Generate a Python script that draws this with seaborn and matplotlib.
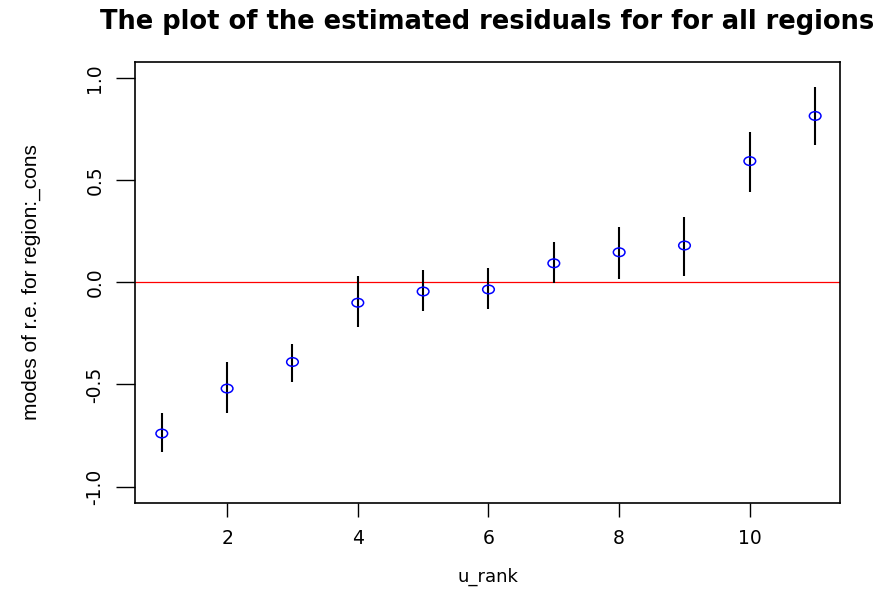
import matplotlib
matplotlib.use("Agg")
import matplotlib.pyplot as plt
from matplotlib.path import Path
from matplotlib.transforms import Affine2D
import seaborn as sns
import pandas as pd

# datos
u_rank = [1, 2, 3, 4, 5, 6, 7, 8, 9, 10, 11]
modos = [-0.74, -0.52, -0.39, -0.10, -0.045, -0.035, 0.093, 0.147, 0.18, 0.593, 0.814]
inf = [-0.83, -0.64, -0.49, -0.22, -0.14, -0.13, -0.005, 0.015, 0.03, 0.44, 0.67]
sup = [-0.64, -0.39, -0.30, 0.03, 0.06, 0.07, 0.196, 0.27, 0.32, 0.735, 0.955]

df = pd.DataFrame({"u_rank": u_rank, "modo": modos, "inf": inf, "sup": sup})

sns.set_theme(style="ticks")
plt.rcParams["font.family"] = ["DejaVu Sans"]
plt.rcParams["text.color"] = "black"
plt.rcParams["xtick.color"] = "black"
plt.rcParams["ytick.color"] = "black"
plt.rcParams["axes.labelcolor"] = "black"

# circulo algo achatado, como en la imagen original
elipse = Path.unit_circle().transformed(Affine2D().scale(1.35, 1.0))

fig = plt.figure(figsize=(8.82, 5.95), dpi=100)
ax = fig.add_axes([135 / 882, 1 - 503 / 595, 705 / 882, 441 / 595])

ax.vlines(df["u_rank"], df["inf"], df["sup"], color="black", linewidth=1.5, zorder=2)
ax.axhline(0, color="red", linewidth=0.9, zorder=1)
sns.scatterplot(data=df, x="u_rank", y="modo", ax=ax, marker=elipse, s=70,
                facecolor="none", edgecolor="blue", linewidth=1.1, zorder=3)

ax.set_xlim(0.59, 11.38)
ax.set_ylim(-1.08, 1.078)
ax.set_xticks([2, 4, 6, 8, 10])
ax.set_yticks([-1.0, -0.5, 0.0, 0.5, 1.0])
ax.set_yticklabels(["-1.0", "-0.5", "0.0", "0.5", "1.0"], rotation=90, va="center")
ax.tick_params(axis="both", labelsize=13.5, width=1, color="black")
ax.tick_params(axis="x", length=10, pad=9)
ax.tick_params(axis="y", length=14, pad=8)

for lado in ax.spines.values():
    lado.set_color("black")
    lado.set_linewidth(1.2)

ax.set_xlabel("u_rank", fontsize=13, labelpad=14)
ax.set_ylabel("modes of r.e. for region:_cons", fontsize=15, labelpad=32,
              family=["Liberation Sans"])
ax.set_title("The plot of the estimated residuals for for all regions",
             fontsize=18.5, fontweight="bold", pad=24, x=0.5)

fig.savefig("out.png", dpi=100)
plt.close(fig)
